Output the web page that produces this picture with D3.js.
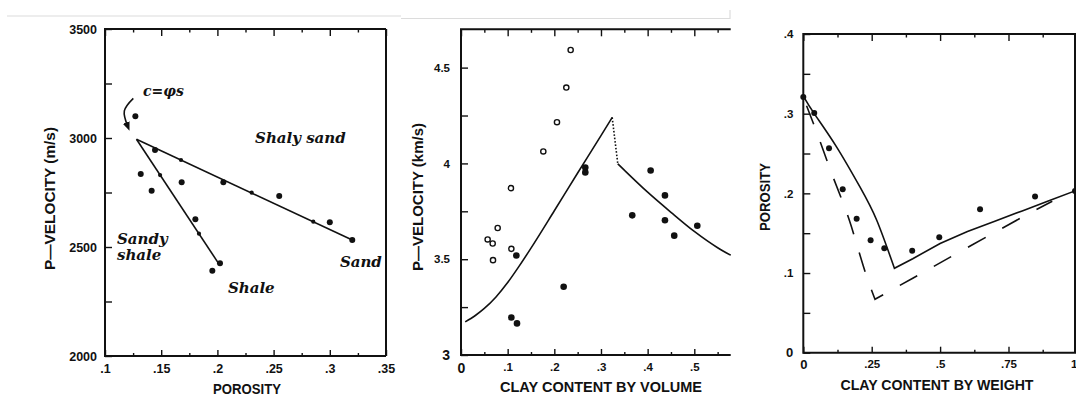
<!DOCTYPE html>
<html>
<head>
<meta charset="utf-8">
<script src="https://cdn.jsdelivr.net/npm/d3@7"></script>
<style>
  body { margin: 0; background: #fff; }
  svg { display: block; background: #fff; }
  .tick text { font-family: "Liberation Sans", Arial, sans-serif; font-weight: bold; fill: #111; }
  .domain { display: none; }
  .tick line { stroke: #111; stroke-width: 1.4; }
  .frame { stroke: #111; stroke-width: 2; fill: none; }
  .curve { stroke: #111; stroke-width: 1.6; fill: none; }
  .title { font-family: "Liberation Sans", Arial, sans-serif; font-weight: bold; fill: #111; }
  .note { font-family: "DejaVu Serif", serif; font-style: italic; font-weight: bold; fill: #111; }
</style>
</head>
<body>
<svg id="chart" width="1076" height="396"></svg>
<script>
// ---------- Panel 1: P-velocity vs porosity ----------
const p1PorosityTicks = [0.1, 0.15, 0.2, 0.25, 0.3, 0.35];
const p1PorosityMinor = [0.125, 0.175, 0.225, 0.275, 0.325];
const p1VelocityTicks = [2000, 2500, 3000, 3500];
const p1VelocityMinor = [2250, 2750, 3250];

const p1DotPorosity = [0.127, 0.1445, 0.2053, 0.255, 0.300, 0.320, 0.1318, 0.1415, 0.1682, 0.1804, 0.2023, 0.1955];
const p1DotVelocity = [3100, 2945, 2797, 2734, 2613, 2532, 2835, 2758, 2797, 2627, 2425, 2391];
const p1MarkPorosity = [0.1676, 0.2305, 0.2853, 0.149, 0.1836];
const p1MarkVelocity = [2899, 2749, 2616, 2830, 2561];

const sandLinePorosity = [0.128, 0.320];
const sandLineVelocity = [2994, 2532];
const shaleLinePorosity = [0.128, 0.201];
const shaleLineVelocity = [2994, 2425];

const arrowPorosity = [0.1252, 0.1172, 0.1203];
const arrowVelocity = [3182, 3124, 3052];

// ---------- Panel 2: P-velocity vs clay content by volume ----------
const p2ClayTicks = [0, 0.1, 0.2, 0.3, 0.4, 0.5];
const p2ClayMinor = [0.05, 0.15, 0.25, 0.35, 0.45, 0.55];
const p2VelocityTicks = [3, 3.5, 4, 4.5];
const p2VelocityMinor = [3.25, 3.75, 4.25];

const openClay = [0.235, 0.2257, 0.2057, 0.1764, 0.107, 0.0571, 0.0679, 0.0786, 0.0686, 0.1079];
const openVelocity = [4.592, 4.396, 4.215, 4.0625, 3.871, 3.603, 3.582, 3.663, 3.495, 3.554];
const filledClay = [0.2664, 0.2664, 0.1186, 0.22, 0.1079, 0.12, 0.4064, 0.4371, 0.367, 0.4371, 0.457, 0.5064];
const filledVelocity = [3.979, 3.953, 3.519, 3.356, 3.196, 3.165, 3.963, 3.833, 3.729, 3.703, 3.623, 3.675];

const modelLeftClay = [0.009, 0.03, 0.05, 0.075, 0.1, 0.125, 0.15, 0.2, 0.25, 0.3, 0.324];
const modelLeftVelocity = [3.173, 3.205, 3.243, 3.303, 3.378, 3.465, 3.558, 3.753, 3.95, 4.145, 4.24];
const modelJumpClay = [0.324, 0.336];
const modelJumpVelocity = [4.24, 3.998];
const modelRightClay = [0.336, 0.35, 0.4, 0.45, 0.5, 0.55, 0.578];
const modelRightVelocity = [3.998, 3.965, 3.85, 3.745, 3.645, 3.56, 3.521];

// ---------- Panel 3: porosity vs clay content by weight ----------
const p3ClayTicks = [0, 0.25, 0.5, 0.75, 1];
const p3ClayMinor = [0.125, 0.375, 0.625, 0.875];
const p3PorosityTicks = [0, 0.1, 0.2, 0.3, 0.4];
const p3PorosityMinor = [0.05, 0.15, 0.25, 0.35];

const p3DotClay = [0, 0.04, 0.094, 0.144, 0.195, 0.246, 0.296, 0.398, 0.497, 0.646, 0.847, 0.993];
const p3DotPorosity = [0.321, 0.301, 0.2565, 0.205, 0.168, 0.141, 0.131, 0.128, 0.145, 0.18, 0.196, 0.203];

// model curves: sand branch (clay below the pore-filling point) and shale branch
const solidSandClay = [0, 0.04, 0.122, 0.207, 0.268, 0.333];
const solidSandPorosity = [0.322, 0.300, 0.258, 0.208, 0.1665, 0.106];
const solidShaleClay = [0.333, 0.4, 0.5, 0.6, 0.7, 0.8, 0.9, 1];
const solidShalePorosity = [0.106, 0.118, 0.137, 0.152, 0.165, 0.178, 0.191, 0.204];
const dashedSandClay = [0.012, 0.055, 0.112, 0.168, 0.219, 0.262];
const dashedSandPorosity = [0.31, 0.271, 0.2175, 0.1665, 0.109, 0.067];
const dashedShaleClay = [0.262, 0.4, 0.6, 0.8, 0.91];
const dashedShalePorosity = [0.067, 0.0935, 0.132, 0.17, 0.19];

// ---------- drawing ----------
const svg = d3.select("#chart");
const zip = (a, b) => a.map((v, i) => [v, b[i]]);
const fmt = d => d === 0 ? "0" : String(+d.toFixed(3)).replace(/^0\./, ".");

// faint page edges around the figure
const edge = svg.append("g").attr("stroke", "#dcdcdc").attr("stroke-width", 1.2).attr("fill", "none");
edge.append("path").attr("d", "M7,16H401");
edge.append("path").attr("d", "M401,18.5H730V10");
edge.append("path").attr("d", "M760,163V230").attr("stroke", "#ececec");

const defs = svg.append("defs");
defs.append("marker").attr("id", "head")
  .attr("viewBox", "0 0 10 10").attr("refX", 5).attr("refY", 5)
  .attr("markerWidth", 9).attr("markerHeight", 9).attr("markerUnits", "userSpaceOnUse")
  .attr("orient", "auto")
  .append("path").attr("d", "M0,1L10,5L0,9Z").attr("fill", "#111");

function axes(g, x, y, c) {
  const [x0, x1] = x.range(), [yb, yt] = y.range();
  g.append("g").attr("transform", `translate(0,${yb})`)
    .call(d3.axisBottom(x).tickValues(c.xMajor).tickSize(-6).tickPadding(c.xPad).tickFormat(fmt))
    .selectAll("text").style("font-size", c.fs + "px");
  g.append("g").attr("transform", `translate(0,${yb})`)
    .call(d3.axisBottom(x).tickValues(c.xMinor).tickSize(-3).tickFormat(""));
  g.append("g").attr("transform", `translate(0,${yt})`)
    .call(d3.axisTop(x).tickValues(c.xMajor).tickSize(-7).tickFormat(""));
  g.append("g").attr("transform", `translate(0,${yt})`)
    .call(d3.axisTop(x).tickValues(c.xMinor).tickSize(-3.5).tickFormat(""));
  g.append("g").attr("transform", `translate(${x0},0)`)
    .call(d3.axisLeft(y).tickValues(c.yMajor).tickSize(-7).tickPadding(c.yPad).tickFormat(fmt))
    .selectAll("text").style("font-size", c.fs + "px");
  g.append("g").attr("transform", `translate(${x0},0)`)
    .call(d3.axisLeft(y).tickValues(c.yMinor).tickSize(-7).tickFormat(""));
  let d = `M${x0},${yt}V${yb}M${x0 - 1},${yb}H${x1}M${x0 - 1},${yt}H${x1}`;
  if (c.right) d += `M${x1},${yt}V${yb}`;
  g.append("path").attr("class", "frame").attr("d", d);
}

function title(g, text, x, y, len, rotate, fs) {
  g.append("text").attr("class", "title")
    .attr("transform", rotate ? `translate(${x},${y}) rotate(-90)` : `translate(${x},${y})`)
    .attr("text-anchor", "middle").style("font-size", fs + "px")
    .attr("textLength", len).attr("lengthAdjust", "spacingAndGlyphs")
    .text(text);
}

// Panel 1
{
  const x = d3.scaleLinear().domain([0.1, 0.35]).range([105, 386]);
  const y = d3.scaleLinear().domain([2000, 3500]).range([356, 29]);
  const g = svg.append("g");
  axes(g, x, y, { xMajor: p1PorosityTicks, xMinor: p1PorosityMinor, yMajor: p1VelocityTicks, yMinor: p1VelocityMinor, fs: 12.5, xPad: 8, yPad: 8, right: true });
  const line = d3.line().x(d => x(d[0])).y(d => y(d[1]));
  g.append("path").attr("class", "curve").attr("d", line(zip(sandLinePorosity, sandLineVelocity)));
  g.append("path").attr("class", "curve").attr("d", line(zip(shaleLinePorosity, shaleLineVelocity)));
  g.selectAll(".mk").data(zip(p1MarkPorosity, p1MarkVelocity)).join("circle")
    .attr("cx", d => x(d[0])).attr("cy", d => y(d[1])).attr("r", 2.1).attr("fill", "#111");
  g.selectAll(".dot").data(zip(p1DotPorosity, p1DotVelocity)).join("circle")
    .attr("cx", d => x(d[0])).attr("cy", d => y(d[1])).attr("r", 3).attr("fill", "#111");
  g.append("path").attr("class", "curve").attr("stroke-width", 1.8)
    .attr("marker-end", "url(#head)")
    .attr("d", d3.line().curve(d3.curveNatural).x(d => x(d[0])).y(d => y(d[1]))(zip(arrowPorosity, arrowVelocity)));
  const note = (t, px, v, fs) => g.append("text").attr("class", "note").attr("x", x(px)).attr("y", y(v)).style("font-size", fs + "px").text(t);
  note("c=φs", 0.1338, 3193, 14);
  note("Shaly  sand", 0.2335, 2977, 15);
  note("Sandy", 0.1107, 2514, 15);
  note("shale", 0.1107, 2440, 15);
  note("Shale", 0.2094, 2289, 15);
  note("Sand", 0.309, 2408, 15);
  title(g, "POROSITY", 247, 394, 68, false, 15);
  title(g, "P\u2014VELOCITY (m/s)", 55, 198.5, 143, true, 15);
}

// Panel 2
{
  const x = d3.scaleLinear().domain([0, 0.578]).range([461, 730.7]);
  const y = d3.scaleLinear().domain([3, 4.7]).range([355, 29.3]);
  const g = svg.append("g");
  axes(g, x, y, { xMajor: p2ClayTicks, xMinor: p2ClayMinor, yMajor: p2VelocityTicks, yMinor: p2VelocityMinor, fs: 11.5, xPad: 8, yPad: 11, right: false });
  g.selectAll(".tick text").filter(d => d === 0 || d === 3).style("font-size", "14px");
  const line = d3.line().curve(d3.curveMonotoneX).x(d => x(d[0])).y(d => y(d[1]));
  g.append("path").attr("class", "curve").attr("d", line(zip(modelLeftClay, modelLeftVelocity)));
  g.append("path").attr("class", "curve").attr("stroke-dasharray", "1.6,1.8").attr("stroke-width", 1.5)
    .attr("d", line(zip(modelJumpClay, modelJumpVelocity)));
  g.append("path").attr("class", "curve").attr("d", line(zip(modelRightClay, modelRightVelocity)));
  g.selectAll(".open").data(zip(openClay, openVelocity)).join("circle")
    .attr("cx", d => x(d[0])).attr("cy", d => y(d[1])).attr("r", 2.6)
    .attr("fill", "#fff").attr("stroke", "#111").attr("stroke-width", 1.4);
  g.selectAll(".filled").data(zip(filledClay, filledVelocity)).join("circle")
    .attr("cx", d => x(d[0])).attr("cy", d => y(d[1])).attr("r", 3.3).attr("fill", "#111");
  title(g, "CLAY CONTENT BY VOLUME", 601, 392, 202, false, 15);
  title(g, "P\u2014VELOCITY (km/s)", 422.5, 197, 148, true, 15);
}

// Panel 3
{
  const x = d3.scaleLinear().domain([0, 1]).range([803.3, 1076.9]);
  const y = d3.scaleLinear().domain([0, 0.4]).range([352.7, 34]);
  const g = svg.append("g");
  axes(g, x, y, { xMajor: p3ClayTicks, xMinor: p3ClayMinor, yMajor: p3PorosityTicks, yMinor: p3PorosityMinor, fs: 11.5, xPad: 7, yPad: 10, right: false });
  g.append("path").attr("class", "frame").attr("d", `M1075,${y(0.4)}V${y(0)}`);
  g.selectAll(".tick text").filter(d => d === 0).style("font-size", "13px");
  // the last clay label sits at the page edge; keep it inside
  g.selectAll(".tick text").filter(d => d === 1).attr("text-anchor", "end");
  const smooth = d3.line().curve(d3.curveNatural).x(d => x(d[0])).y(d => y(d[1]));
  const straight = d3.line().x(d => x(d[0])).y(d => y(d[1]));
  g.append("path").attr("class", "curve")
    .attr("d", smooth(zip(solidSandClay, solidSandPorosity)) + straight(zip(solidShaleClay, solidShalePorosity)).replace(/^M/, "L"));
  g.append("path").attr("class", "curve").attr("stroke-dasharray", "20,19")
    .attr("d", smooth(zip(dashedSandClay, dashedSandPorosity)) + smooth(zip(dashedShaleClay, dashedShalePorosity)).replace(/^M/, "L"));
  g.selectAll(".dot").data(zip(p3DotClay, p3DotPorosity)).join("circle")
    .attr("cx", d => x(d[0])).attr("cy", d => y(d[1])).attr("r", 3).attr("fill", "#111");
  title(g, "CLAY CONTENT BY WEIGHT", 937, 390, 193, false, 15);
  title(g, "POROSITY", 770, 197, 68, true, 14);
}
</script>
</body>
</html>
